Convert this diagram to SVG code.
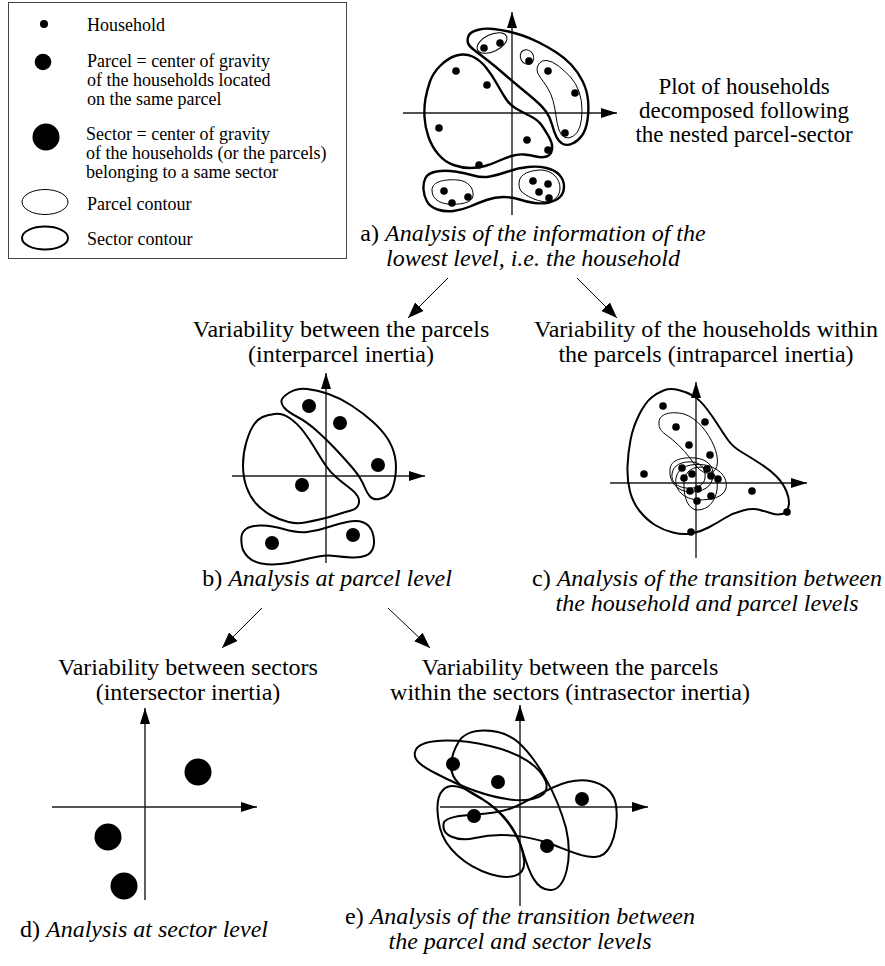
<svg xmlns="http://www.w3.org/2000/svg" width="885" height="966" viewBox="0 0 885 966">
<style>
text{font-family:"Liberation Serif","Times New Roman",serif;fill:#000}
.lg{font-size:18px}
.lb{font-size:24px;text-anchor:middle}
.pl{font-size:23px;text-anchor:middle}
.it{font-style:italic}
.thick{fill:none;stroke:#000;stroke-width:2.4}
.thick2{fill:none;stroke:#000;stroke-width:2}
.thin{fill:none;stroke:#000;stroke-width:1}
.axis{fill:none;stroke:#1a1a1a;stroke-width:1.4}
.conn{fill:none;stroke:#000;stroke-width:1}
</style>
<defs>
<marker id="ax" viewBox="0 0 16 10" refX="16" refY="5" markerWidth="16" markerHeight="10" markerUnits="userSpaceOnUse" orient="auto"><path d="M0,0 L16,5 L0,10 Z" fill="#000"/></marker>
<marker id="ar" viewBox="0 0 16 12" refX="16" refY="6" markerWidth="16" markerHeight="12" markerUnits="userSpaceOnUse" orient="auto"><path d="M0,0 L16,6 L0,12 Z" fill="#000"/></marker>
</defs>
<rect width="885" height="966" fill="#fff"/>

<g id="legend">
<rect x="8.5" y="2.5" width="338" height="256" fill="none" stroke="#444" stroke-width="1"/>
<circle cx="44" cy="24" r="4" fill="#000"/>
<text class="lg" x="87" y="31">Household</text>
<circle cx="43" cy="62" r="8.3" fill="#000"/>
<text class="lg" x="87" y="67">Parcel = center of gravity</text>
<text class="lg" x="87" y="86">of the households located</text>
<text class="lg" x="87" y="105">on the same parcel</text>
<circle cx="46" cy="137" r="13.5" fill="#000"/>
<text class="lg" x="86" y="140">Sector = center of gravity</text>
<text class="lg" x="86" y="159">of the households (or the parcels)</text>
<text class="lg" x="86" y="178">belonging to a same sector</text>
<ellipse cx="45" cy="202" rx="23" ry="12.5" class="thin"/>
<text class="lg" x="87" y="210">Parcel contour</text>
<ellipse cx="45" cy="238" rx="23" ry="11.5" class="thick2"/>
<text class="lg" x="87" y="245">Sector contour</text>
</g>

<g id="plot-a">
<line class="axis" x1="512" y1="215" x2="512" y2="12" marker-end="url(#ax)"/>
<line class="axis" x1="403" y1="113" x2="617" y2="113" marker-end="url(#ax)"/>
<path class="thick" d="M430,81.5 Q433,73 440.5,65.5 Q448,58 456.5,55.5 Q465,53 472.5,56.5 Q480,60 486,67.5 Q492,75 497,84 Q502,93 506,99 Q510,105 516,108.5 Q522,112 530,116 Q538,120 541.5,125 Q545,130 549,137 Q553,144 552,149.5 Q551,155 546.5,156.5 Q542,158 536,156.5 Q530,155 524,154.5 Q518,154 511.5,156 Q505,158 498.5,161 Q492,164 485,166 Q478,168 470,168 Q462,168 453.5,165 Q445,162 438.5,154.5 Q432,147 428.5,137 Q425,127 424.5,117 Q424,107 425.5,98.5 Q427,90 430,81.5 Z"/>
<path class="thick" d="M468,43 Q467,40 468.5,36 Q470,32 477.5,30 Q485,28 493.5,29 Q502,30 508.5,31.5 Q515,33 522.5,35.5 Q530,38 539,42.5 Q548,47 556.5,52.5 Q565,58 571.5,65 Q578,72 582.5,81 Q587,90 588,100 Q589,110 587.5,120 Q586,130 582,135.5 Q578,141 572.5,143.5 Q567,146 563,144 Q559,142 556.5,137 Q554,132 552,124.5 Q550,117 546,111.5 Q542,106 535,100 Q528,94 520,87.5 Q512,81 503.5,73.5 Q495,66 486.5,59.5 Q478,53 473.5,49.5 Q469,46 468,43 Z"/>
<path class="thick" d="M423.5,189.5 Q423,183 425.5,178 Q428,173 436.5,171.5 Q445,170 455,171.5 Q465,173 473.5,175.5 Q482,178 490,176.5 Q498,175 508,171.5 Q518,168 528,167 Q538,166 546.5,168 Q555,170 559.5,175 Q564,180 564,186.5 Q564,193 560,197 Q556,201 549,202.5 Q542,204 534.5,203 Q527,202 519.5,199.5 Q512,197 503.5,197 Q495,197 486.5,200 Q478,203 470,206.5 Q462,210 453.5,211 Q445,212 437.5,209.5 Q430,207 427,201.5 Q424,196 423.5,189.5 Z"/>
<ellipse class="thin" cx="492" cy="43" rx="16" ry="8.5" transform="rotate(-25 492 43)"/>
<ellipse class="thin" cx="527" cy="57" rx="6.5" ry="7.5" transform="rotate(-30 527 57)"/>
<path class="thin" d="M537,69.5 Q537,66 539.5,63 Q542,60 547,60.5 Q552,61 558.5,66 Q565,71 570.5,77 Q576,83 579,91.5 Q582,100 582,110 Q582,120 580,126.5 Q578,133 573.5,136 Q569,139 565,137.5 Q561,136 559,130 Q557,124 556,116 Q555,108 553,100.5 Q551,93 547,87 Q543,81 540,77 Q537,73 537,69.5 Z"/>
<path class="thin" d="M432,190 C432,181 446,179 458,180 C468,181 474,188 473,196 C472,203 460,205 448,204 C438,203 432,198 432,190 Z"/>
<path class="thin" d="M519,183 C519,173 532,170 542,170 C553,171 560,179 560,188 C560,197 553,202 546,202 C536,201 526,196 521,191 C519,188 519,186 519,183 Z"/>
<g fill="#000">
<circle cx="456" cy="71" r="3.8"/><circle cx="487" cy="85" r="3.8"/><circle cx="439" cy="128" r="3.8"/>
<circle cx="527" cy="140" r="3.8"/><circle cx="548" cy="150" r="3.8"/><circle cx="479" cy="165" r="3.8"/>
<circle cx="484" cy="48" r="3.8"/><circle cx="500" cy="43" r="3.8"/><circle cx="529" cy="61" r="3.8"/>
<circle cx="548" cy="71" r="3.8"/><circle cx="575" cy="93" r="3.8"/><circle cx="565" cy="133" r="3.8"/>
<circle cx="444" cy="191" r="3.8"/><circle cx="452" cy="203" r="3.8"/><circle cx="468" cy="197" r="3.8"/>
<circle cx="533" cy="181" r="3.8"/><circle cx="548" cy="184" r="3.8"/><circle cx="539" cy="192" r="3.8"/><circle cx="549" cy="198" r="3.8"/>
</g>
</g>

<g id="plot-b">
<line class="axis" x1="326" y1="563" x2="326" y2="373" marker-end="url(#ax)"/>
<line class="axis" x1="232" y1="476" x2="425" y2="476" marker-end="url(#ax)"/>
<path class="thick2" d="M281.5,400.5 Q282,397 289.5,392.5 Q297,388 307,389 Q317,390 328.5,394 Q340,398 351.5,405.5 Q363,413 372.5,421.5 Q382,430 387.5,438.5 Q393,447 395,457 Q397,467 395,478.5 Q393,490 389,494 Q385,498 379,499 Q373,500 370,496.5 Q367,493 365,488 Q363,483 360,478 Q357,473 350,465 Q343,457 335,448.5 Q327,440 317,431 Q307,422 297.5,417 Q288,412 284.5,408 Q281,404 281.5,400.5 Z"/>
<path class="thick2" d="M262.5,417 Q267,415 274.5,414 Q282,413 289.5,418 Q297,423 303.5,431.5 Q310,440 315,448.5 Q320,457 325,464.5 Q330,472 336.5,477.5 Q343,483 349,487.5 Q355,492 357.5,496 Q360,500 358.5,504.5 Q357,509 351,510.5 Q345,512 337.5,514.5 Q330,517 321.5,519 Q313,521 305,522.5 Q297,524 288.5,522 Q280,520 271.5,515.5 Q263,511 256.5,504 Q250,497 246.5,487 Q243,477 243,465 Q243,453 246.5,441.5 Q250,430 254,424.5 Q258,419 262.5,417 Z"/>
<path class="thick2" d="M241.5,536.5 Q242,532 246,529 Q250,526 260,525.5 Q270,525 283.5,529 Q297,533 307,532 Q317,531 327,527.5 Q337,524 347,522 Q357,520 363.5,522.5 Q370,525 372.5,532.5 Q375,540 373.5,546.5 Q372,553 366,555.5 Q360,558 351.5,557.5 Q343,557 335,556 Q327,555 318.5,556.5 Q310,558 300,560.5 Q290,563 280,564 Q270,565 261.5,563.5 Q253,562 248,557 Q243,552 242,546.5 Q241,541 241.5,536.5 Z"/>
<g fill="#000">
<circle cx="309" cy="406" r="7"/><circle cx="340" cy="423" r="7"/><circle cx="378" cy="465" r="7"/>
<circle cx="302" cy="485" r="7"/><circle cx="272" cy="543" r="7"/><circle cx="353" cy="535" r="7"/>
</g>
</g>

<g id="plot-c">
<line class="axis" x1="696" y1="558" x2="696" y2="382" marker-end="url(#ax)"/>
<line class="axis" x1="610" y1="483" x2="807" y2="483" marker-end="url(#ax)"/>
<path class="thick2" d="M651,398 Q657,393 663.5,390.5 Q670,388 678.5,390 Q687,392 693.5,396 Q700,400 706.5,408.5 Q713,417 718,425 Q723,433 728,440 Q733,447 741.5,452 Q750,457 760,463.5 Q770,470 776.5,476.5 Q783,483 786.5,491.5 Q790,500 788.5,506.5 Q787,513 782,514 Q777,515 772,513.5 Q767,512 760,510 Q753,508 743,510.5 Q733,513 725,518 Q717,523 708.5,527.5 Q700,532 691.5,533.5 Q683,535 673,532.5 Q663,530 655,525 Q647,520 640,511.5 Q633,503 630,491.5 Q627,480 627.5,466.5 Q628,453 630.5,440 Q633,427 639,415 Q645,403 651,398 Z"/>
<path class="thin" d="M659,424 C658,413 672,411 684,414 C697,418 708,432 714,446 C719,458 719,470 711,473 C703,475 696,467 690,458 C683,449 675,441 665,434 C661,431 659,428 659,424 Z"/>
<path class="thin" d="M670,470 C670,459 684,457 695,458 C707,459 714,466 713,476 C712,487 703,492 690,492 C677,491 669,482 670,470 Z"/>
<path class="thin" d="M676,478 C678,466 692,463 705,465 C720,468 728,478 726,488 C724,497 712,500 698,500 C684,499 674,490 676,478 Z"/>
<path class="thin" d="M684,486 C683,474 690,467 701,467 C712,468 719,477 717,490 C715,502 708,510 697,510 C688,509 684,498 684,486 Z"/>
<path class="thin" d="M672,474 C673,465 682,461 693,462 C702,463 706,470 705,478 C704,486 696,489 686,488 C677,487 671,482 672,474 Z"/>
<g fill="#000">
<circle cx="663" cy="406" r="3.8"/><circle cx="705" cy="422" r="3.8"/><circle cx="676" cy="427" r="3.8"/>
<circle cx="689" cy="445" r="3.8"/><circle cx="710" cy="455" r="3.8"/><circle cx="644" cy="474" r="3.8"/>
<circle cx="752" cy="491" r="3.8"/><circle cx="787" cy="512" r="3.8"/><circle cx="691" cy="532" r="3.8"/>
<circle cx="682" cy="468" r="3.8"/><circle cx="692" cy="474" r="3.8"/><circle cx="684" cy="478" r="3.8"/>
<circle cx="707" cy="469" r="3.8"/><circle cx="711" cy="476" r="3.8"/><circle cx="718" cy="479" r="3.8"/>
<circle cx="690" cy="491" r="3.8"/><circle cx="698" cy="489" r="3.8"/><circle cx="697" cy="501" r="3.8"/><circle cx="711" cy="496" r="3.8"/>
</g>
</g>

<g id="plot-d">
<line class="axis" x1="145" y1="900" x2="145" y2="708" marker-end="url(#ax)"/>
<line class="axis" x1="52" y1="807" x2="257" y2="807" marker-end="url(#ax)"/>
<g fill="#000">
<circle cx="198" cy="772" r="13.5"/><circle cx="108" cy="837" r="13.5"/><circle cx="124" cy="886" r="13.5"/>
</g>
</g>

<g id="plot-e">
<line class="axis" x1="520" y1="906" x2="520" y2="705" marker-end="url(#ax)"/>
<line class="axis" x1="440" y1="807" x2="648" y2="807" marker-end="url(#ax)"/>
<path class="thick2" d="M415,752 C418,738 455,738 490,746 C520,753 540,766 546,782 C550,796 535,801 515,800 C490,798 460,786 437,774 C421,766 413,760 415,752 Z"/>
<path class="thick2" d="M458,743 C466,726 500,727 518,742 C538,760 557,795 566,828 C573,858 566,889 551,890 C536,891 529,872 523,852 C516,828 501,810 482,799 C463,789 450,780 451,764 C452,755 455,748 458,743 Z"/>
<path class="thick2" d="M443,790 C452,780 470,790 488,803 C508,818 522,840 524,860 C526,877 510,880 490,874 C465,866 445,848 440,828 C436,810 437,796 443,790 Z"/>
<path class="thick2" d="M444,822 C452,812 485,818 512,808 C532,800 548,787 568,782 C592,776 613,786 616,805 C619,828 612,852 600,856 C586,860 568,850 548,843 C528,836 500,832 475,838 C458,842 440,836 444,822 Z"/>
<g fill="#000">
<circle cx="453" cy="764" r="7"/><circle cx="498" cy="782" r="7"/><circle cx="582" cy="799" r="7"/>
<circle cx="474" cy="816" r="7"/><circle cx="547" cy="846" r="7"/>
</g>
</g>

<g id="labels">
<text class="pl" x="744" y="94">Plot of households</text>
<text class="pl" x="744" y="118">decomposed following</text>
<text class="pl" x="744" y="142">the nested parcel-sector</text>
<text class="lb" x="533" y="241">a) <tspan class="it">Analysis of the information of the</tspan></text>
<text class="lb it" x="533" y="266">lowest level, i.e. the household</text>
<text class="lb" x="341" y="337">Variability between the parcels</text>
<text class="lb" x="341" y="362">(interparcel inertia)</text>
<text class="lb" x="706" y="337">Variability of the households within</text>
<text class="lb" x="706" y="362">the parcels (intraparcel inertia)</text>
<text class="lb" x="327" y="586">b) <tspan class="it">Analysis at parcel level</tspan></text>
<text class="lb" x="707" y="586">c) <tspan class="it">Analysis of the transition between</tspan></text>
<text class="lb it" x="707" y="611">the household and parcel levels</text>
<text class="lb" x="188" y="675">Variability between sectors</text>
<text class="lb" x="188" y="700">(intersector inertia)</text>
<text class="lb" x="570" y="675">Variability between the parcels</text>
<text class="lb" x="570" y="700">within the sectors (intrasector inertia)</text>
<text class="lb" x="144" y="937">d) <tspan class="it">Analysis at sector level</tspan></text>
<text class="lb" x="520" y="924">e) <tspan class="it">Analysis of the transition between</tspan></text>
<text class="lb it" x="520" y="949">the parcel and sector levels</text>
</g>

<g id="connectors">
<line class="conn" x1="448" y1="278" x2="408" y2="318" marker-end="url(#ar)"/>
<line class="conn" x1="577" y1="278" x2="617" y2="318" marker-end="url(#ar)"/>
<line class="conn" x1="262" y1="608" x2="222" y2="648" marker-end="url(#ar)"/>
<line class="conn" x1="388" y1="608" x2="430" y2="648" marker-end="url(#ar)"/>
</g>
</svg>
